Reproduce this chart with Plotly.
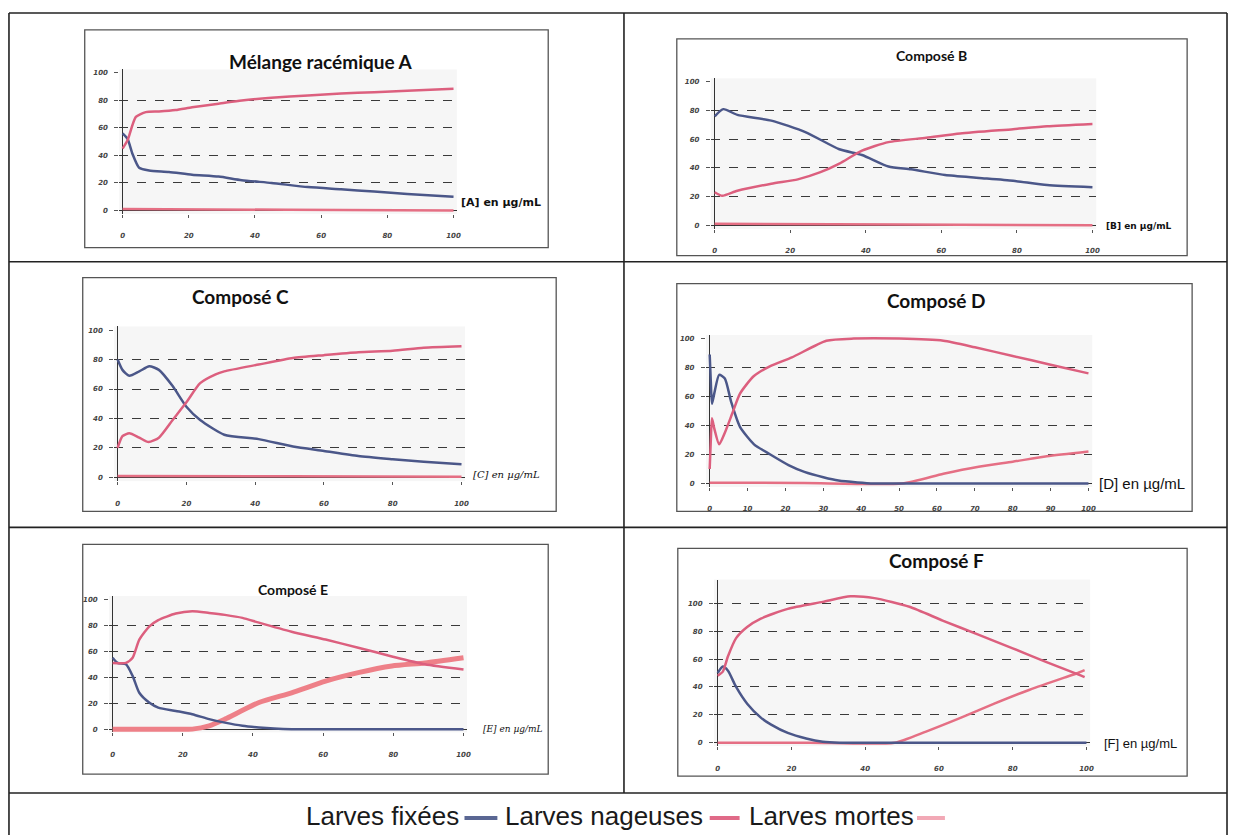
import plotly.graph_objects as go

W, H = 1234, 836

# ---------------- data ----------------
X_TICKS_20 = [0, 20, 40, 60, 80, 100]
X_TICKS_10 = [0, 10, 20, 30, 40, 50, 60, 70, 80, 90, 100]
Y_TICKS = [0, 20, 40, 60, 80, 100]

# A
A_x_fix = [0, 1.5, 3, 5, 8, 14, 21, 29, 36, 45, 56, 66, 76, 86, 100]
A_fix = [56, 52, 41, 31, 29, 28, 26, 24.6, 22, 20, 17, 15.4, 13.7, 12, 10]
A_x_nag = [0, 1.5, 4, 7, 11, 16, 21, 29, 36, 45, 56, 66, 76, 86, 100]
A_nag = [45, 51, 68, 71.5, 72, 73, 75, 77.6, 80, 82, 83.6, 85, 86, 87, 88.4]
A_x_mort = [0, 50, 100]
A_mort = [1, 0.5, 0]

# B
B_x_fix = [0, 2.3, 6, 15, 24, 33, 39, 46, 52, 61, 70, 79, 88, 100]
B_fix = [76, 81, 77, 73, 65, 53, 49, 41, 39, 35, 33, 31, 28, 26.5]
B_x_nag = [0, 2, 6, 15, 22, 28, 33, 39, 46, 56, 65, 79, 88, 100]
B_nag = [23, 20.5, 24, 29, 32, 37, 43, 52, 58, 61, 64, 67, 69, 70.6]
B_x_mort = [0, 50, 100]
B_mort = [1, 0.5, 0]

# C
C_x_fix = [0, 1.4, 3.4, 6.3, 9.2, 12, 16, 20, 24, 31, 41, 51, 60, 70, 80, 89, 100]
C_fix = [80, 73, 69, 72, 75.5, 73, 62, 48, 39, 29, 26, 21, 18, 14.6, 12.4, 10.6, 9]
C_x_nag = [0, 1.4, 3.4, 6.3, 9, 12, 16, 20, 24, 28.5, 31, 41, 51, 60, 70, 80, 89, 100]
C_nag = [20, 28, 30, 27, 24, 27, 39, 51, 64, 70, 72, 76.6, 81, 83, 85, 86, 88, 89]
C_x_mort = [0, 50, 100]
C_mort = [1, 0.8, 0.5]

# D
D_x_fix = [0, 0.3, 0.6, 1.2, 2.5, 4, 5.7, 8, 11.7, 16, 20.8, 25, 30, 34, 39, 43.5, 70, 100]
D_fix = [89, 70, 55, 62, 75, 72.5, 56, 39, 27, 20, 12.7, 8, 4.3, 2, 0.7, 0, 0, 0]
D_x_nag = [0, 0.3, 0.6, 1.2, 2.5, 4, 6.2, 8, 11.6, 16, 21.7, 30.8, 38, 50, 61.7, 70, 80, 90, 100]
D_nag = [10, 30, 45, 38, 27, 35, 50, 62, 74, 81, 87, 98.5, 100, 100, 98.5, 94, 88, 82, 76]
D_x_mort = [0, 25, 50.8, 61.7, 71, 80, 89, 100]
D_mort = [0.5, 0.3, 0, 6.7, 11.5, 15, 18.7, 22]

# E
E_x_fix = [0, 1.4, 3.8, 5.7, 7.6, 10.4, 13, 18, 22.7, 27.5, 32, 37, 41.7, 46, 51, 75, 100]
E_fix = [55, 51, 50, 41, 28, 20.5, 16.6, 14, 11.5, 7.7, 5, 2.6, 1.3, 0.5, 0, 0, 0]
E_x_nag = [0, 3.8, 5.7, 7.6, 10.4, 13, 18, 22.7, 27.5, 32, 37, 41.7, 51, 60.7, 70, 79.6, 89, 100]
E_nag = [51, 51, 55, 69, 79, 84, 89, 90.8, 89.5, 88, 85.7, 82, 75, 69, 62.7, 56, 50, 46]
E_x_mort = [0, 12, 22.7, 27.5, 32, 41.7, 51, 60.7, 70, 79.6, 89, 100]
E_mort = [0, 0, 0, 2.5, 7.7, 20.5, 28, 37, 43.5, 48.6, 51, 55]

# F
F_x_fix = [0, 1.4, 2.8, 5, 8, 11.7, 14.5, 19, 24, 28.5, 33, 66, 100]
F_fix = [50, 54.6, 51.6, 40, 28, 18, 13, 7, 3, 0.7, 0, 0, 0]
F_x_nag = [0, 1.4, 2.8, 5, 8, 11.7, 19, 28.5, 36, 42.5, 52, 61, 70.5, 80, 89, 97.7, 99.5]
F_nag = [48, 51, 62, 75, 83, 89, 96, 101, 105, 103.7, 97.5, 87.6, 77.7, 67.7, 58, 49, 47]
F_x_mort = [0, 25, 48, 56.5, 66, 75, 84.6, 94, 97.7, 99.5]
F_mort = [0, 0, 0, 8, 18, 28, 38, 46.7, 50, 52]

TITLES = ["Mélange racémique A", "Composé B", "Composé C", "Composé D", "Composé E", "Composé F"]
X_LABELS = ["[A] en µg/mL", "[B] en µg/mL", "[C] en µg/mL", "[D] en µg/mL", "[E] en µg/mL", "[F] en µg/mL"]
LEGEND_NAMES = ["Larves fixées", "Larves nageuses", "Larves mortes"]

# ---------------- style / geometry ----------------
BLUE = "#4b5789"
PINK = "#dc5f7e"
MORT = "#e56f84"
MORT_E = "#ee8088"
LEG_COLORS = ["#5a6793", "#e06a88", "#f2a9b6"]

TITLE_FONT = "Lato"

charts = [
    dict(fix=(A_x_fix, A_fix), nag=(A_x_nag, A_nag), mort=(A_x_mort, A_mort),
         px=(123, 455, 210.7, 73), ytop=100, xt=X_TICKS_20,
         title=(322, 62, 19, "bold"), lab=(503, 203, 11, "bold", "normal", "DejaVu Sans"),
         box=(85, 30, 550, 248), mw=2.5),
    dict(fix=(B_x_fix, B_fix), nag=(B_x_nag, B_nag), mort=(B_x_mort, B_mort),
         px=(717, 1096, 225.5, 82), ytop=100, xt=X_TICKS_20,
         title=(935, 56, 14, "bold"), lab=(1143, 226, 9, "bold", "normal", "DejaVu Sans"),
         box=(679, 39, 1191, 256), mw=2.5),
    dict(fix=(C_x_fix, C_fix), nag=(C_x_nag, C_nag), mort=(C_x_mort, C_mort),
         px=(118, 463, 478, 330.5), ytop=100, xt=X_TICKS_20,
         title=(241, 297, 19, "bold"), lab=(508, 475, 10, "normal", "italic", "DejaVu Serif"),
         box=(83, 278, 558, 512), mw=2.5),
    dict(fix=(D_x_fix, D_fix), nag=(D_x_nag, D_nag), mort=(D_x_mort, D_mort),
         px=(712, 1092, 484, 339), ytop=100, xt=X_TICKS_10,
         title=(939, 301, 19, "bold"), lab=(1146, 484, 15, "normal", "normal", "Liberation Sans"),
         box=(679, 284, 1196, 512), mw=2.5),
    dict(fix=(E_x_fix, E_fix), nag=(E_x_nag, E_nag), mort=(E_x_mort, E_mort),
         px=(113, 465, 730, 600), ytop=100, xt=X_TICKS_20,
         title=(294, 590, 14, "bold"), lab=(515, 730, 9, "normal", "italic", "DejaVu Serif"),
         box=(83, 545, 550, 775), mw=5),
    dict(fix=(F_x_fix, F_fix), nag=(F_x_nag, F_nag), mort=(F_x_mort, F_mort),
         px=(720, 1090, 743.6, 604), ytop=117, xt=X_TICKS_20,
         title=(940, 561, 19, "bold"), lab=(1144, 744, 13, "normal", "normal", "Liberation Sans"),
         box=(680, 549, 1191, 777), mw=2.5),
]


def px2x(v):
    return v / W


def px2y(v):
    return 1 - v / H


fig = go.Figure()
layout = dict(
    width=W, height=H, margin=dict(l=0, r=0, t=0, b=0),
    paper_bgcolor="white", plot_bgcolor="#f6f6f6", showlegend=False,
)
shapes = []
annotations = []

PADY = 2.5
PADX = 1.0

for i, c in enumerate(charts):
    n = "" if i == 0 else str(i + 1)
    xa, ya = "x" + n, "y" + n
    x0, x1, y0p, y100p = c["px"]
    ppu_x = (x1 - x0) / 100.0
    ppu_y = (y0p - y100p) / 100.0
    ylo, yhi = -PADY, c["ytop"] + (PADY if c["ytop"] == 100 else 0)
    dom_x = [px2x(x0 - PADX * ppu_x), px2x(x1 + PADX * ppu_x)]
    dom_y = [px2y(y0p - ylo * ppu_y), px2y(y0p - yhi * ppu_y)]

    gridvals = [20, 40, 60, 80] + ([100] if c["ytop"] > 100 else [])
    layout["xaxis" + n] = dict(
        domain=dom_x, range=[-PADX, 100 + PADX], anchor=ya,
        tickvals=c["xt"], ticktext=[str(v) for v in c["xt"]],
        ticks="outside", ticklen=3, tickcolor="#555", showgrid=False,
        showline=False, zeroline=True, zerolinecolor="#333", zerolinewidth=1.3,
        tickfont=dict(family="DejaVu Sans", size=7, color="#444", style="italic", weight="bold"),
        ticklabelstandoff=12, fixedrange=True,
    )
    layout["yaxis" + n] = dict(
        domain=dom_y, range=[ylo, yhi], anchor=xa,
        tickvals=Y_TICKS, ticktext=[str(v) for v in Y_TICKS],
        ticks="outside", ticklen=4, tickcolor="#555", showgrid=False,
        showline=False, zeroline=True, zerolinecolor="#333", zerolinewidth=1.3,
        tickfont=dict(family="DejaVu Sans", size=7, color="#444", style="italic", weight="bold"),
        ticklabelstandoff=5,
        minor=dict(tickmode="array", tickvals=gridvals, showgrid=True, ticks="",
                   gridcolor="#3a3a3a", griddash="dash", gridwidth=1),
        fixedrange=True,
    )

    for key, col, wdt in (("mort", MORT_E if i == 4 else MORT, c["mw"]),
                          ("fix", BLUE, 2.5), ("nag", PINK, 2.5)):
        xs, ys = c[key]
        fig.add_trace(go.Scatter(
            x=xs, y=ys, mode="lines", xaxis=xa, yaxis=ya,
            line=dict(color=col, width=wdt, shape="spline", smoothing=0.6),
            name=LEGEND_NAMES[{"fix": 0, "nag": 1, "mort": 2}[key]],
            hoverinfo="skip",
        ))

    tx, ty, tsize, tweight = c["title"]
    annotations.append(dict(
        text=TITLES[i], x=px2x(tx), y=px2y(ty), xref="paper", yref="paper",
        xanchor="center", yanchor="middle", showarrow=False,
        font=dict(family=TITLE_FONT, size=tsize, color="#111", weight=tweight),
    ))
    lx, ly, lsize, lweight, lstyle, lfam = c["lab"]
    annotations.append(dict(
        text=X_LABELS[i], x=px2x(lx), y=px2y(ly), xref="paper", yref="paper",
        xanchor="center", yanchor="middle", showarrow=False,
        font=dict(family=lfam, size=lsize, color="#111", weight=lweight, style=lstyle),
    ))
    bx0, by0, bx1, by1 = c["box"]
    shapes.append(dict(type="rect", xref="paper", yref="paper",
                       x0=px2x(bx0), x1=px2x(bx1), y0=px2y(by1), y1=px2y(by0),
                       line=dict(color="#555", width=1.3), layer="below"))

# table grid
TL, TT, TR, TB = 9, 13, 1231, 836
for seg in [
    (TL, TT, TR, TT), (TL, TT, TL, TB), (TR, TT, TR, TB),
    (626, TT, 626, 794),
    (TL, 262, TR, 262), (TL, 528, TR, 528), (TL, 794, TR, 794),
]:
    shapes.append(dict(type="line", xref="paper", yref="paper",
                       x0=px2x(seg[0]), y0=px2y(seg[1]), x1=px2x(seg[2]), y1=px2y(seg[3]),
                       line=dict(color="#222", width=1.6)))

# bottom legend: text then colour dash
LEG_POS = [(305, 466, 499), (505, 712, 742), (749, 920, 948)]
for name, col, (tx, m0, m1) in zip(LEGEND_NAMES, LEG_COLORS, LEG_POS):
    annotations.append(dict(
        text=name, x=px2x(tx), y=px2y(817), xref="paper", yref="paper",
        xanchor="left", yanchor="middle", showarrow=False,
        font=dict(family="Liberation Sans", size=26, color="#1a1a1a"),
    ))
    shapes.append(dict(type="line", xref="paper", yref="paper",
                       x0=px2x(m0), x1=px2x(m1), y0=px2y(819), y1=px2y(819),
                       line=dict(color=col, width=4)))

layout["shapes"] = shapes
layout["annotations"] = annotations
fig.update_layout(**layout)
fig.write_html("out.html")
